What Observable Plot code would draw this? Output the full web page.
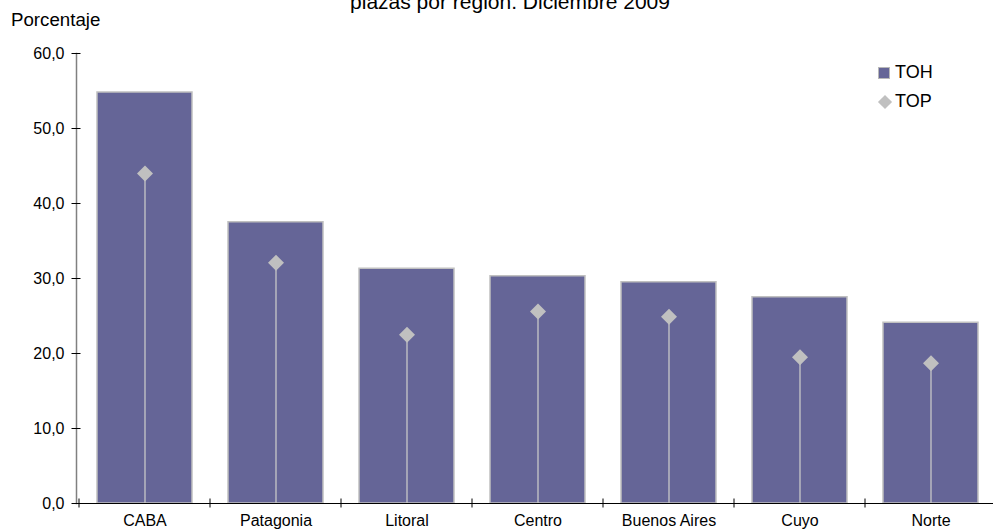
<!DOCTYPE html>
<html>
<head>
<meta charset="utf-8">
<script src="https://cdn.jsdelivr.net/npm/d3@7"></script>
<script src="https://cdn.jsdelivr.net/npm/@observablehq/plot@0.6"></script>
<style>
  html, body { margin: 0; padding: 0; background: #fff; }
  #wrap { position: relative; width: 993px; height: 532px; overflow: hidden; font-family: "Liberation Sans", Arial, sans-serif; }
  #title { position: absolute; left: 0; width: 1020px; top: -9px; text-align: center; font-size: 21px; line-height: 21px; color: #000; }
  #ylabel { position: absolute; left: 11px; top: 11px; font-size: 18.7px; line-height: 18px; color: #000; }
  #chart { position: absolute; left: 0; top: 0; }
  .leg { position: absolute; font-size: 18px; line-height: 18px; color: #000; }
  .sw-bar { position: absolute; width: 10px; height: 10px; background: #656597; border: 1px solid #b8b8b8; }
  .sw-dia { position: absolute; width: 10px; height: 10px; background: #c0c0c0; transform: rotate(45deg); }
</style>
</head>
<body>
<div id="wrap">
  <div id="chart"></div>
  <div id="title">plazas por región. Diciembre 2009</div>
  <div id="ylabel">Porcentaje</div>
  <div class="sw-bar" style="left:878px; top:67px;"></div>
  <div class="leg" style="left:895px; top:63px;">TOH</div>
  <div class="sw-dia" style="left:880px; top:97px;"></div>
  <div class="leg" style="left:895px; top:92px;">TOP</div>
</div>
<script>
const regions = ["CABA", "Patagonia", "Litoral", "Centro", "Buenos Aires", "Cuyo", "Norte"];
const toh = [54.8, 37.5, 31.3, 30.3, 29.5, 27.5, 24.1];
const topv = [44.0, 32.1, 22.5, 25.6, 24.9, 19.5, 18.7];
const yTicks = [0, 10, 20, 30, 40, 50, 60];

const data = regions.map((r, i) => ({region: r, toh: toh[i], top: topv[i]}));
const fmt = d => d.toFixed(1).replace(".", ",");

const chart = Plot.plot({
  width: 993,
  height: 532,
  marginTop: 53,
  marginBottom: 29,
  marginLeft: 76,
  marginRight: 0,
  style: {fontFamily: "'Liberation Sans', Arial, sans-serif", background: "transparent", overflow: "visible"},
  x: {domain: regions, range: [76, 1000], paddingInner: 0.2727, paddingOuter: 0.1364, axis: null},
  y: {domain: [0, 60], axis: null},
  marks: [
    Plot.barY(data, {x: "region", y: "toh", fill: "#656597", stroke: "#c0c0c0", strokeWidth: 1.5}),
    Plot.ruleX(data, {x: "region", y1: 0, y2: "top", stroke: "#c8c8c8", strokeWidth: 1.3}),
    Plot.dot(data, {x: "region", y: "top", symbol: "diamond2", r: 7.2, fill: "#c0c0c0", stroke: "none"}),
    Plot.frame({anchor: "left", stroke: "#808080", strokeWidth: 1.5}),
    Plot.ruleY([0], {stroke: "#000", strokeWidth: 1.2}),
    Plot.axisY({ticks: yTicks, tickFormat: fmt, tickSize: 9, dx: 4.5, tickPadding: 7.5, fontSize: 16, stroke: "#000", color: "#000", label: null}),
    Plot.axisX({tickFormat: () => "", tickSize: 9, dx: -66, dy: -4.5, stroke: "#000", label: null}),
    Plot.axisX({tickSize: 0, tickPadding: 11, fontSize: 16, color: "#000", label: null})
  ]
});
document.getElementById("chart").appendChild(chart);
</script>
</body>
</html>
